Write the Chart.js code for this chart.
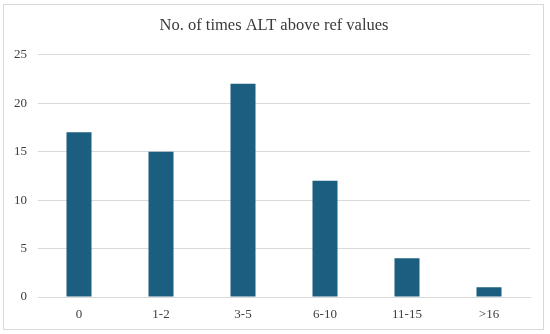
<!DOCTYPE html>
<html>
<head>
<meta charset="utf-8">
<script src="https://cdn.jsdelivr.net/npm/chart.js@4/dist/chart.umd.min.js"></script>
<style>
  html, body { margin: 0; padding: 0; background: #fff; }
  #wrap { position: relative; width: 550px; height: 334px; }
  #frame { position: absolute; left: 3px; top: 4px; width: 541px; height: 326px;
           border: 1px solid #d9d9d9; box-sizing: border-box; pointer-events: none; }
</style>
</head>
<body>
<div id="wrap">
  <canvas id="chart" width="550" height="334"></canvas>
  <div id="frame"></div>
</div>
<script>
// categories and counts
var categories = ['0', '1-2', '3-5', '6-10', '11-15', '>16'];
var counts = [17, 15, 22, 12, 4, 1];
var yTicks = [0, 5, 10, 15, 20, 25];

var titleText = 'No. of times ALT above ref values';
var serif = "'Liberation Serif', 'Times New Roman', serif";

// centre the title on the whole frame, not just over the plot
var centreTitle = {
    id: 'centreTitle',
    afterLayout: function (chart) {
        if (chart.titleBlock) {
            chart.titleBlock.left = 18;
            chart.titleBlock.right = 530;
        }
    }
};

var ctx = document.getElementById('chart').getContext('2d');
var chart = new Chart(ctx, {
    type: 'bar',
    data: {
        labels: categories,
        datasets: [{
            label: 'Count',
            data: counts,
            backgroundColor: '#1b5e80',
            barPercentage: 0.61,
            categoryPercentage: 0.5
        }]
    },
    options: {
        responsive: false,
        animation: false,
        layout: { padding: { left: 0, right: 20, top: 0, bottom: 0 } },
        plugins: {
            legend: { display: false },
            tooltip: { enabled: false },
            title: {
                display: true,
                text: titleText,
                color: '#3a3a3a',
                font: { family: serif, size: 16.5, weight: 'normal' },
                padding: { top: 16, bottom: 19 }
            }
        },
        scales: {
            x: {
                grid: { display: false, drawTicks: false },
                border: { display: true, color: '#d9d9d9' },
                ticks: { color: '#404040', font: { family: serif, size: 13 }, padding: 10 },
                afterFit: function (scale) { scale.height = 37; }
            },
            y: {
                min: 0,
                max: 25,
                afterBuildTicks: function (scale) {
                    scale.ticks = yTicks.map(function (v) { return { value: v }; });
                },
                grid: { color: '#d9d9d9', drawTicks: false },
                border: { display: false },
                ticks: { color: '#404040', font: { family: serif, size: 13 }, padding: 11 },
                afterFit: function (scale) { scale.width = 38; }
            }
        }
    },
    plugins: [centreTitle]
});
</script>
</body>
</html>
